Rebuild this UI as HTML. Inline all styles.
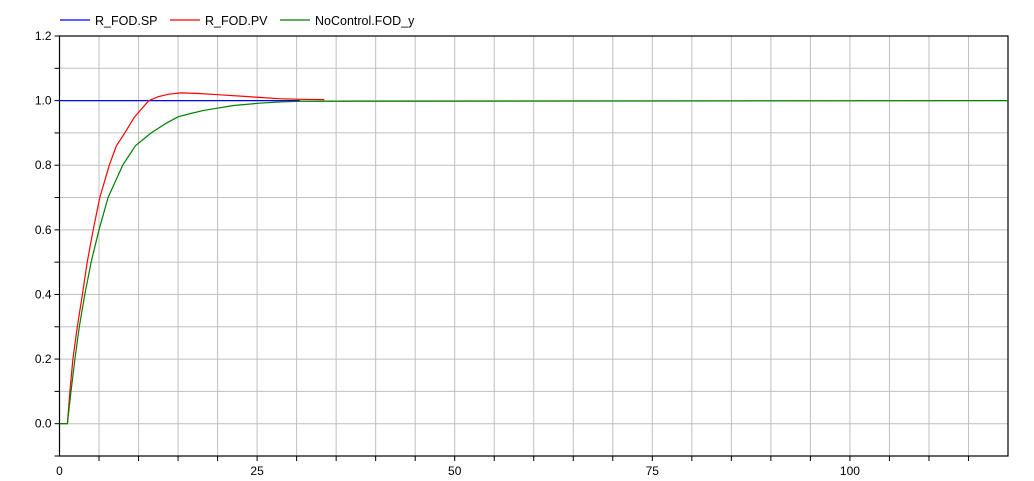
<!DOCTYPE html>
<html><head><meta charset="utf-8"><style>
body{margin:0;background:#fff;}
svg{display:block;font-family:"Liberation Sans",sans-serif;}
</style></head><body>
<svg id="chart" width="1034" height="481"></svg>
<script>
const xTicks=[0,25,50,75,100];
const yTicks=[0.0,0.2,0.4,0.6,0.8,1.0,1.2];
const spT=[0,30.4];
const spY=[1,1];
const pvT=[0,1,1.32,1.7,2.25,2.9,3.5,4.26,5.1,6.3,7.2,8.26,9.5,11.3,12.5,13.8,15.4,17.6,20.3,23.4,25.3,27.8,30.5,33.5];
const pvY=[0,0,0.1,0.2,0.3,0.4,0.5,0.6,0.7,0.8,0.86,0.9,0.95,1.0,1.012,1.02,1.024,1.022,1.018,1.013,1.01,1.006,1.004,1.003];
const ncT=[0,1,1.45,1.95,2.5,3.2,4.0,5.0,6.15,8.0,9.6,11.6,13.5,15.0,16.6,18.3,19.6,22,25.3,28,30.4,120];
const ncY=[0,0,0.1,0.2,0.3,0.4,0.5,0.6,0.7,0.8,0.86,0.9,0.93,0.95,0.96,0.97,0.975,0.985,0.992,0.996,0.998,1.0];
const L=59.5,R=1008,T=36,B=456,xmin=0,xmax=120,ymin=-0.1,ymax=1.2;
const sx=v=>L+(v-xmin)/(xmax-xmin)*(R-L);
const sy=v=>B-(v-ymin)/(ymax-ymin)*(B-T);
const svg=document.getElementById('chart');
const NS='http://www.w3.org/2000/svg';
function mk(t,a){const e=document.createElementNS(NS,t);for(const k in a)e.setAttribute(k,a[k]);svg.appendChild(e);return e;}
for(let v=5;v<xmax;v+=5){const g=mk('line',{x1:sx(v),x2:sx(v),y1:T,y2:B,stroke:'#c0c0c0','stroke-width':1});


mk('line',{x1:sx(v),x2:sx(v),y1:B,y2:B+5,stroke:'#000'});}
for(let i=0;i<=13;i++){const v=ymin+i*0.1;const g=mk('line',{x1:L,x2:R,y1:sy(v),y2:sy(v),stroke:'#c0c0c0','stroke-width':1});


mk('line',{x1:L-5,x2:L,y1:sy(v),y2:sy(v),stroke:'#000'});}
mk('rect',{x:L,y:T,width:R-L,height:B-T,fill:'none',stroke:'#000','stroke-width':1.2});
xTicks.forEach(v=>{const t=mk('text',{x:sx(v),y:475,'text-anchor':'middle','font-size':12,fill:'#000'});t.textContent=v;

});
yTicks.forEach(v=>{const t=mk('text',{x:L-8,y:sy(v)+4,'text-anchor':'end','font-size':12,fill:'#000'});t.textContent=v.toFixed(1);

});
function series(ts,ys,c,n){let d='';ts.forEach((t,i)=>{d+=(i?'L':'M')+sx(t).toFixed(1)+','+sy(ys[i]).toFixed(1);});
const p=mk('path',{d:d,fill:'none',stroke:c,'stroke-width':1.2});

}
series(spT,spY,'#0000ff','series-r-fod-sp');
series(pvT,pvY,'#ff0000','series-r-fod-pv');
series(ncT,ncY,'#008000','series-nocontrol-fod-y');
const leg=[['R_FOD.SP','#0000ff',60],['R_FOD.PV','#ff0000',170],['NoControl.FOD_y','#008000',280]];
leg.forEach(l=>{mk('line',{x1:l[2],x2:l[2]+30,y1:20,y2:20,stroke:l[1],'stroke-width':1.2});
const t=mk('text',{x:l[2]+35,y:25,'font-size':12.5,fill:'#000'});t.textContent=l[0];

});
</script>
</body></html>
